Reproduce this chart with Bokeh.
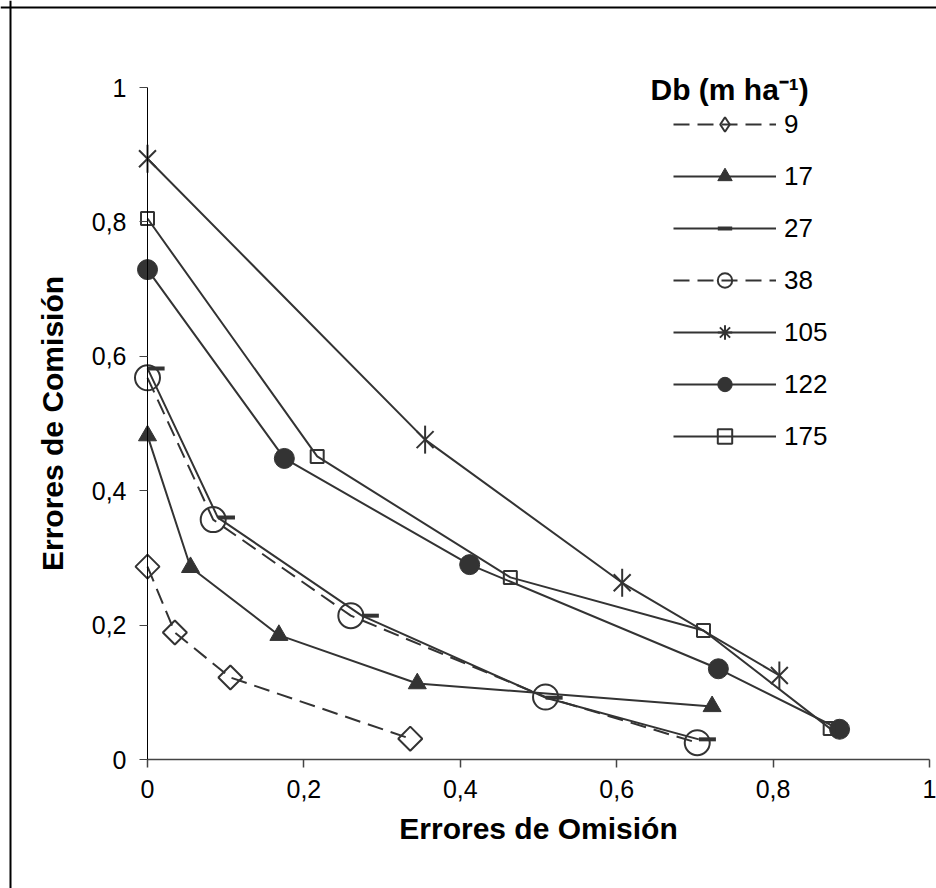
from bokeh.plotting import figure
from bokeh.models import Range1d, FixedTicker, Legend, LegendItem, Label, Span
from bokeh.embed import file_html
from bokeh.resources import INLINE
from bokeh.transform import dodge
import math

# ---------------- data ----------------
series_names = ["9", "17", "27", "38", "105", "122", "175"]

omis_9 = [0.0, 0.035, 0.106, 0.336]
comis_9 = [0.287, 0.189, 0.122, 0.031]

omis_17 = [0.0, 0.055, 0.168, 0.345, 0.722]
comis_17 = [0.482, 0.286, 0.185, 0.113, 0.079]

omis_27 = [0.0, 0.090, 0.274, 0.509, 0.705]
comis_27 = [0.582, 0.360, 0.214, 0.092, 0.030]

omis_38 = [0.0, 0.084, 0.260, 0.509, 0.703]
comis_38 = [0.568, 0.357, 0.214, 0.093, 0.025]

omis_105 = [0.0, 0.355, 0.607, 0.808]
comis_105 = [0.894, 0.476, 0.263, 0.125]

omis_122 = [0.0, 0.175, 0.412, 0.730, 0.885]
comis_122 = [0.729, 0.448, 0.290, 0.135, 0.045]

omis_175 = [0.0, 0.217, 0.464, 0.711, 0.873]
comis_175 = [0.805, 0.451, 0.271, 0.192, 0.046]

tick_values = [0, 0.2, 0.4, 0.6, 0.8, 1]
tick_labels = ["0", "0,2", "0,4", "0,6", "0,8", "1"]

x_title = "Errores de Omisión"
y_title = "Errores de Comisión"
legend_title = "Db (m ha\u207b\u00b9)"

# ---------------- layout (pixels) ----------------
W, H = 936, 888
X0_PX, X1_PX = 147, 929      # screen x of omission 0 and 1
Y0_PX, Y1_PX = 759, 87       # screen y of commission 0 and 1
sx = (X1_PX - X0_PX)
sy = (Y0_PX - Y1_PX)
x_start = -X0_PX / sx
x_end = 1 + (W - X1_PX) / sx
y_start = -(H - Y0_PX) / sy
y_end = 1 + Y1_PX / sy

FONT = "Liberation Sans"
INK = "#333333"
NAN = float("nan")

p = figure(width=W, height=H, output_backend="svg", toolbar_location=None,
           x_range=Range1d(x_start, x_end), y_range=Range1d(y_start, y_end),
           min_border_left=0, min_border_right=0, min_border_top=0, min_border_bottom=0)
p.border_fill_color = "white"
p.background_fill_color = "white"
p.outline_line_color = None
p.grid.visible = False

overrides = {v: t for v, t in zip(tick_values, tick_labels)}
for ax in (p.xaxis[0], p.yaxis[0]):
    ax.ticker = FixedTicker(ticks=tick_values)
    ax.major_label_overrides = overrides
    ax.bounds = (0, 1)
    ax.fixed_location = 0
    ax.major_tick_in = 0
    ax.major_tick_out = 8
    ax.minor_tick_line_color = None
    ax.major_label_text_font = FONT
    ax.major_label_text_font_size = "25px"
    ax.major_label_text_color = "#000000"
    ax.axis_label_text_font = FONT
    ax.axis_label_text_font_size = "30px"
    ax.axis_label_text_font_style = "bold"
    ax.axis_label_text_color = "#000000"

p.xaxis.axis_label = x_title
p.yaxis.axis_label = y_title
p.xaxis.axis_line_color = "#444444"
p.xaxis.axis_line_width = 1.5
p.xaxis.major_tick_line_color = "#444444"
p.xaxis.major_tick_line_width = 1.5
p.yaxis.axis_line_color = "#000000"
p.yaxis.axis_line_width = 1
p.yaxis.major_tick_line_color = "#444444"
p.xaxis.major_label_standoff = 12
p.yaxis.major_label_standoff = 13
p.xaxis.axis_label_standoff = 11
p.yaxis.axis_label_standoff = 20

# outer chart-area border (left and top edges)
p.add_layout(Span(location=x_start + 10 / sx, dimension="height",
                  line_color="#000000", line_width=2))
p.add_layout(Span(location=y_end - 7 / sy, dimension="width",
                  line_color="#000000", line_width=2))

LW = 2
DASH = "16 8"

items = []

# 9: dashed, open diamond
r_l = p.line(omis_9, comis_9, line_color=INK, line_width=LW, line_dash=DASH)
p.scatter(omis_9, comis_9, marker="square", angle=math.pi / 4, size=17,
          fill_color=None, line_color=INK, line_width=2)
r_leg = p.scatter(x=[NAN], y=[NAN], marker="diamond", size=10, fill_color=None,
                  line_color=INK, line_width=2)
items.append(LegendItem(label=series_names[0], renderers=[r_l, r_leg]))

# 17: solid, filled triangle
r_l = p.line(omis_17, comis_17, line_color=INK, line_width=LW)
r_m = p.scatter(omis_17, comis_17, marker="triangle", size=18,
                fill_color=INK, line_color=INK)
items.append(LegendItem(label=series_names[1], renderers=[r_l, r_m]))

# 27: solid, dash marker drawn from the point to the right
r_l = p.line(omis_27, comis_27, line_color=INK, line_width=LW)
src27 = {"x": omis_27, "y": comis_27}
r_m = p.scatter(x=dodge("x", 0.011, range=p.x_range), y="y", source=src27,
                marker="dash", size=17, line_color=INK, line_width=4)
items.append(LegendItem(label=series_names[2], renderers=[r_l, r_m]))

# 38: dashed, open circle
r_l = p.line(omis_38, comis_38, line_color=INK, line_width=LW, line_dash=DASH)
r_m = p.scatter(omis_38, comis_38, marker="circle", size=25,
                fill_color=None, line_color=INK, line_width=2)
items.append(LegendItem(label=series_names[3], renderers=[r_l, r_m]))

# 105: solid, asterisk (x + vertical bar)
r_l = p.line(omis_105, comis_105, line_color=INK, line_width=LW)
p.scatter(omis_105, comis_105, marker="x", size=24, line_color=INK, line_width=2)
p.scatter(omis_105, comis_105, marker="dash", angle=math.pi / 2, size=28,
          line_color=INK, line_width=2)
r_leg = p.scatter(x=[NAN], y=[NAN], marker="asterisk", size=10, line_color=INK,
                  line_width=2)
items.append(LegendItem(label=series_names[4], renderers=[r_l, r_leg]))

# 122: solid, filled circle
r_l = p.line(omis_122, comis_122, line_color=INK, line_width=LW)
r_m = p.scatter(omis_122, comis_122, marker="circle", size=20,
                fill_color=INK, line_color=INK)
items.append(LegendItem(label=series_names[5], renderers=[r_l, r_m]))

# 175: solid, open square
r_l = p.line(omis_175, comis_175, line_color=INK, line_width=LW)
r_m = p.scatter(omis_175, comis_175, marker="square", size=13,
                fill_color=None, line_color=INK, line_width=2)
items.append(LegendItem(label=series_names[6], renderers=[r_l, r_m]))

legend = Legend(items=items, location=(673, 434),
                glyph_width=103, glyph_height=36, label_height=36,
                label_standoff=8, spacing=16, padding=0, margin=0,
                border_line_color=None, background_fill_color=None,
                label_text_font=FONT, label_text_font_size="26px",
                label_text_color="#000000")
p.add_layout(legend, "center")

title = Label(x=650, y=H - 89, x_units="screen", y_units="screen", text=legend_title,
              text_font=FONT, text_font_size="30px", text_font_style="bold",
              text_baseline="middle", text_color="#000000")
p.add_layout(title)

open("out.html", "w").write(file_html(p, INLINE))
